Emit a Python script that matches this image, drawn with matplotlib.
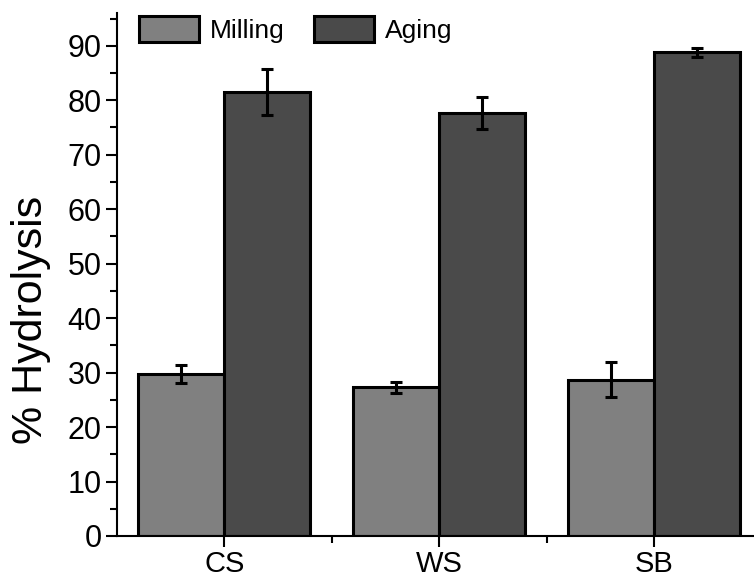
import numpy as np
import matplotlib
matplotlib.use("Agg")
import matplotlib.pyplot as plt
from matplotlib.ticker import MultipleLocator, FixedLocator

plt.rcParams['font.family'] = ['Liberation Sans', 'DejaVu Sans']

categorias = ["CS", "WS", "SB"]
milling = [29.7, 27.3, 28.7]
milling_err = [1.6, 1.0, 3.2]
aging = [81.5, 77.7, 88.8]
aging_err = [4.3, 2.9, 0.8]

x = np.arange(len(categorias))
largura = 0.4

fig = plt.figure(figsize=(7.54, 5.81), dpi=100)
ax = fig.add_axes([0.155, 0.0775, 0.855, 0.9])

err_kw = dict(ecolor="black", elinewidth=2.2, capsize=4.5, capthick=2.2)
ax.bar(x - largura / 2, milling, width=largura, yerr=milling_err,
       color="#808080", edgecolor="black", linewidth=2.2, label="Milling", error_kw=err_kw)
ax.bar(x + largura / 2, aging, width=largura, yerr=aging_err,
       color="#4a4a4a", edgecolor="black", linewidth=2.2, label="Aging", error_kw=err_kw)

ax.set_xlim(-0.5, 2.5)
ax.set_ylim(0, 96)

ax.spines["top"].set_visible(False)
ax.spines["right"].set_visible(False)
ax.spines["left"].set_linewidth(1.5)
ax.spines["bottom"].set_linewidth(1.5)

ax.set_xticks(x)
ax.set_xticklabels(categorias, fontsize=21)
ax.xaxis.set_minor_locator(FixedLocator([0.5, 1.5]))
ax.yaxis.set_major_locator(MultipleLocator(10))
ax.yaxis.set_minor_locator(MultipleLocator(5))

ax.tick_params(axis="both", which="major", direction="out", length=8, width=1.5)
ax.tick_params(axis="y", which="major", labelsize=22, pad=3)
ax.tick_params(axis="x", which="major", pad=2)
ax.tick_params(axis="both", which="minor", direction="out", length=5, width=1.5)

ax.set_ylabel("% Hydrolysis", fontsize=31)
ax.yaxis.set_label_coords(-0.102, 0.413)

ax.legend(loc="upper left", bbox_to_anchor=(0.005, 1.03), ncol=2, frameon=False,
          fontsize=19, handlelength=2.3, handleheight=1.15, columnspacing=1.1,
          handletextpad=0.4, borderaxespad=0.3)

fig.savefig("out.png", dpi=100)
